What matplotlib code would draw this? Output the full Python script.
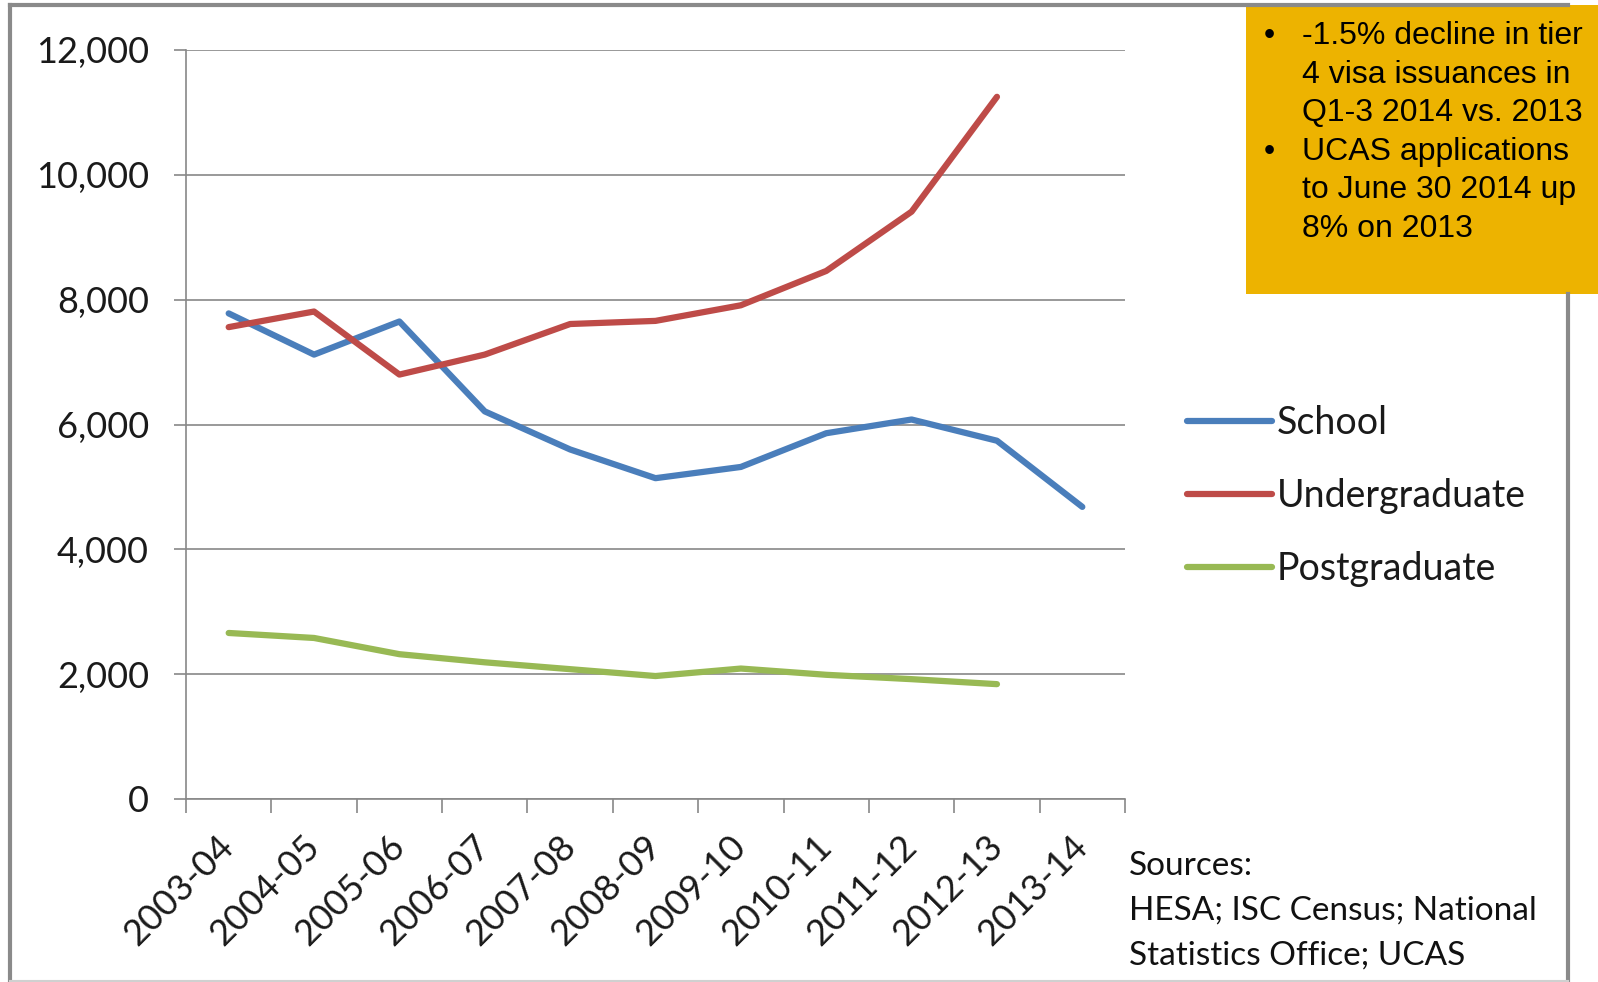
import numpy as np
import matplotlib.pyplot as plt
from matplotlib.patches import Rectangle
from matplotlib.lines import Line2D
from matplotlib.ticker import FuncFormatter

# data
years = ['2003-04', '2004-05', '2005-06', '2006-07', '2007-08', '2008-09',
         '2009-10', '2010-11', '2011-12', '2012-13', '2013-14']
school = [7780, 7120, 7650, 6210, 5600, 5140, 5320, 5860, 6080, 5740, 4680]
undergrad = [7560, 7810, 6800, 7120, 7610, 7660, 7910, 8460, 9410, 11250, np.nan]
postgrad = [2660, 2580, 2320, 2190, 2080, 1970, 2090, 1990, 1920, 1840, np.nan]

box_lines = ['-1.5% decline in tier', '4 visa issuances in', 'Q1-3 2014 vs. 2013',
             'UCAS applications', 'to June 30 2014 up', '8% on 2013']
bullet_rows = [0, 3]
source_lines = ['Sources:', 'HESA; ISC Census; National', 'Statistics Office; UCAS']

W, H = 1598, 982
plt.rcParams['font.family'] = ['Lato', 'DejaVu Sans']
fig = plt.figure(figsize=(W / 100, H / 100), dpi=100)

ax = fig.add_axes([186 / W, 1 - 799 / H, (1125 - 186) / W, (799 - 50) / H])
x = np.arange(len(years))
ax.plot(x, school, color='#4A7EBB', lw=4.5, solid_capstyle='round', solid_joinstyle='round', label='School')
ax.plot(x, undergrad, color='#BE4B48', lw=4.5, solid_capstyle='round', solid_joinstyle='round', label='Undergraduate')
ax.plot(x, postgrad, color='#98B954', lw=4.5, solid_capstyle='round', solid_joinstyle='round', label='Postgraduate')

gray = '#888888'
ax.set_xlim(-0.5, len(years) - 0.5)
ax.set_ylim(0, 12000)
ax.set_yticks(np.arange(0, 12001, 2000))
ax.yaxis.set_major_formatter(FuncFormatter(lambda v, p: f'{int(v):,}'))
ax.grid(axis='y', color=gray, lw=1.2)
ax.set_axisbelow(True)
for s in ['top', 'right']:
    ax.spines[s].set_visible(False)
for s in ['left', 'bottom']:
    ax.spines[s].set_color(gray)
    ax.spines[s].set_linewidth(1.2)

# boundary ticks on x, labels at the centres
ax.set_xticks(np.arange(-0.5, len(years)), [''] * (len(years) + 1))
ax.set_xticks(x, years, minor=True)
ax.tick_params(axis='x', which='major', length=10, width=1.2, color=gray, direction='out')
ax.tick_params(axis='x', which='minor', length=0, pad=30, labelsize=26, labelcolor='#1a1a1a')
for lab in ax.get_xticklabels(minor=True):
    lab.set_rotation(45)
    lab.set_ha('right')
    lab.set_va('center')
    lab.set_rotation_mode('anchor')
ax.tick_params(axis='y', length=8.6, width=1.2, color=gray, direction='out', pad=18,
               labelsize=26, labelcolor='#1a1a1a')

leg = ax.legend(loc='center left', bbox_to_anchor=(1187 / W, 1 - 496 / H), bbox_transform=fig.transFigure,
                frameon=False, fontsize=27, handlelength=2.27, handletextpad=0.13,
                labelspacing=0.99, borderpad=0, borderaxespad=0)
for t in leg.get_texts():
    t.set_color('#1a1a1a')

# yellow note box
fig.patches.append(Rectangle((1246 / W, 1 - 294 / H), 1 - 1246 / W, (294 - 5) / H,
                             transform=fig.transFigure, facecolor='#EDB300', edgecolor='none', zorder=1))
for i, line in enumerate(box_lines):
    yb = 1 - (44 + i * 38.6) / H
    fig.text(1302 / W, yb, line, fontsize=23, family='Liberation Sans', va='baseline', ha='left', zorder=3)
    if i in bullet_rows:
        fig.text(1264 / W, yb, '•', fontsize=23, family='Liberation Sans', va='baseline', ha='left', zorder=3)

for i, line in enumerate(source_lines):
    fig.text(1129 / W, 1 - (875 + i * 45) / H, line, fontsize=24, va='baseline', ha='left', color='#111111')

# outer frame
frame = '#8a8a8a'
fig.lines.append(Line2D([10 / W, 1568 / W], [1 - 5 / H, 1 - 5 / H], transform=fig.transFigure, color=frame, lw=3, zorder=2))
fig.lines.append(Line2D([10 / W, 10 / W], [1 - 5 / H, 1 - 981 / H], transform=fig.transFigure, color=frame, lw=3, zorder=2))
fig.lines.append(Line2D([1568 / W, 1568 / W], [1 - 294 / H, 1 - 981 / H], transform=fig.transFigure, color=frame, lw=3, zorder=2))
fig.lines.append(Line2D([10 / W, 1568 / W], [1 - 981 / H, 1 - 981 / H], transform=fig.transFigure, color='#d0d0d0', lw=1.5, zorder=2))

fig.savefig('out.png', dpi=100)
